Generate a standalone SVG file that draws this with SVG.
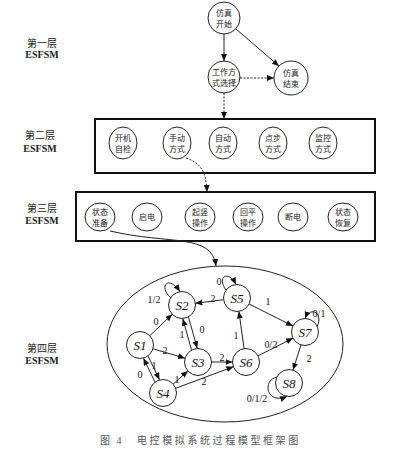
<svg xmlns="http://www.w3.org/2000/svg" width="400" height="455" viewBox="0 0 400 455">
<style>
.nd{fill:#fff;stroke:#222;stroke-width:1}
.bx{fill:none;stroke:#111;stroke-width:2}
.cn{font-family:"Liberation Serif","Noto Sans CJK SC",serif;font-size:8px;fill:#222;text-anchor:middle}
.lay{font-family:"Liberation Serif","Noto Sans CJK SC",serif;font-size:10px;fill:#222;text-anchor:middle}
.es{font-family:"Liberation Serif",serif;font-size:10px;font-weight:bold;fill:#222;text-anchor:middle}
.st{font-family:"Liberation Serif",serif;font-size:13px;font-style:italic;fill:#111;text-anchor:middle}
.el{font-family:"Liberation Serif",serif;font-size:10px;fill:#111;text-anchor:middle}
.e{fill:none;stroke:#222;stroke-width:1;marker-end:url(#ah)}
.dt{stroke-dasharray:2 1.5}
.cap{font-family:"Liberation Serif","Noto Sans CJK SC",serif;font-size:10px;fill:#555}
</style>
<defs>
<marker id="ah" markerUnits="userSpaceOnUse" markerWidth="8" markerHeight="8" refX="7" refY="3" orient="auto">
<path d="M0,0 L7,3 L0,6 Z" fill="#111"/>
</marker>
</defs>

<g id="labels">
<text class="lay" x="42" y="47">第一层</text><text class="es" x="42" y="58">ESFSM</text>
<text class="lay" x="40" y="139">第二层</text><text class="es" x="40" y="152">ESFSM</text>
<text class="lay" x="42" y="212">第三层</text><text class="es" x="42" y="224">ESFSM</text>
<text class="lay" x="42" y="352">第四层</text><text class="es" x="42" y="364">ESFSM</text>
</g>

<g id="layer1">
<g id="n-start"><circle class="nd" cx="224" cy="18" r="16"/><text class="cn" x="224" y="16">仿真</text><text class="cn" x="224" y="27">开始</text></g>
<g id="n-mode"><circle class="nd" cx="224" cy="77" r="16"/><text class="cn" x="224" y="75">工作方</text><text class="cn" x="224" y="86">式选择</text></g>
<g id="n-end"><circle class="nd" cx="291" cy="78" r="17"/><text class="cn" x="291" y="76">仿真</text><text class="cn" x="291" y="87">结束</text></g>
</g>

<g id="layer2">
<rect class="bx" x="95" y="119" width="280" height="54"/>
<g id="n-kj"><ellipse class="nd" cx="123" cy="143" rx="14" ry="16"/><text class="cn" x="123" y="141">开机</text><text class="cn" x="123" y="152">自检</text></g>
<g id="n-sd"><ellipse class="nd" cx="177" cy="143" rx="14" ry="16"/><text class="cn" x="177" y="141">手动</text><text class="cn" x="177" y="152">方式</text></g>
<g id="n-zd"><ellipse class="nd" cx="223" cy="143" rx="14" ry="16"/><text class="cn" x="223" y="141">自动</text><text class="cn" x="223" y="152">方式</text></g>
<g id="n-db"><ellipse class="nd" cx="273" cy="143" rx="14" ry="16"/><text class="cn" x="273" y="141">点步</text><text class="cn" x="273" y="152">方式</text></g>
<g id="n-jk"><ellipse class="nd" cx="323" cy="143" rx="14" ry="16"/><text class="cn" x="323" y="141">监控</text><text class="cn" x="323" y="152">方式</text></g>
</g>

<g id="layer3">
<rect class="bx" x="76" y="192" width="299" height="49"/>
<g id="n-zb"><ellipse class="nd" cx="100" cy="217" rx="15" ry="14"/><text class="cn" x="100" y="215">状态</text><text class="cn" x="100" y="226">准备</text></g>
<g id="n-qd"><ellipse class="nd" cx="147" cy="217" rx="15" ry="14"/><text class="cn" x="147" y="220">启电</text></g>
<g id="n-qs"><ellipse class="nd" cx="200" cy="217" rx="15" ry="14"/><text class="cn" x="200" y="215">起竖</text><text class="cn" x="200" y="226">操作</text></g>
<g id="n-hp"><ellipse class="nd" cx="248" cy="217" rx="15" ry="14"/><text class="cn" x="248" y="215">回平</text><text class="cn" x="248" y="226">操作</text></g>
<g id="n-dd"><ellipse class="nd" cx="293" cy="217" rx="15" ry="14"/><text class="cn" x="293" y="220">断电</text></g>
<g id="n-hf"><ellipse class="nd" cx="343" cy="217" rx="15" ry="14"/><text class="cn" x="343" y="215">状态</text><text class="cn" x="343" y="226">恢复</text></g>
</g>

<g id="layer4">
<ellipse cx="225" cy="344" rx="118" ry="78" fill="none" stroke="#222" stroke-width="1"/>
<g id="S1"><circle class="nd" cx="140" cy="345" r="13.5"/><text class="st" x="140" y="350">S1</text></g>
<g id="S2"><circle class="nd" cx="182" cy="305" r="13.5"/><text class="st" x="182" y="310">S2</text></g>
<g id="S3"><circle class="nd" cx="198" cy="362" r="13.5"/><text class="st" x="198" y="367">S3</text></g>
<g id="S4"><circle class="nd" cx="163" cy="393" r="13.5"/><text class="st" x="163" y="398">S4</text></g>
<g id="S5"><circle class="nd" cx="237" cy="298" r="13.5"/><text class="st" x="237" y="303">S5</text></g>
<g id="S6"><circle class="nd" cx="246" cy="362" r="13.5"/><text class="st" x="246" y="367">S6</text></g>
<g id="S7"><circle class="nd" cx="305" cy="332" r="13.5"/><text class="st" x="305" y="337">S7</text></g>
<g id="S8"><circle class="nd" cx="289" cy="383" r="13.5"/><text class="st" x="289" y="388">S8</text></g>
</g>

<g id="connectors">
<line class="e" x1="224" y1="34" x2="224" y2="61"/>
<line class="e" x1="236" y1="29" x2="279" y2="66"/>
<line class="e dt" x1="240" y1="78" x2="274" y2="78"/>
<line class="e dt" x1="224" y1="93" x2="224" y2="119"/>
<path class="e dt" d="M186,158 C200,163 206,170 207,192"/>
<path class="e" d="M110,231 C170,245 212,233 216,266"/>

<line class="e" x1="149.8" y1="335.7" x2="172.2" y2="314.3"/>
<line class="e" x1="188.5" y1="317.2" x2="197.2" y2="348.2"/>
<line class="e" x1="191.5" y1="349.8" x2="182.8" y2="318.8"/>
<path class="e" d="M171,298 C158,287 168,274 180,291.5"/>
<line class="e" x1="223.6" y1="299.7" x2="195.4" y2="303.3"/>
<path class="e" d="M226,290 C216,276 229,270 236,284.5"/>
<line class="e" x1="249.1" y1="304" x2="292.9" y2="326"/>
<line class="e" x1="244.1" y1="348.6" x2="238.9" y2="311.4"/>
<line class="e" x1="258" y1="355.9" x2="293" y2="338.1"/>
<line class="e" x1="211.5" y1="362" x2="232.5" y2="362"/>
<line class="e" x1="153" y1="348.8" x2="185" y2="358.2"/>
<line class="e" x1="148.1" y1="356.1" x2="159.5" y2="379.7"/>
<line class="e" x1="154.9" y1="381.9" x2="143.5" y2="358.3"/>
<line class="e" x1="173.1" y1="384.1" x2="187.9" y2="370.9"/>
<line class="e" x1="175.6" y1="388.3" x2="233.4" y2="366.7"/>
<path class="e" d="M317,327 C324,312 310,306 305,318.5"/>
<line class="e" x1="301" y1="344.9" x2="293" y2="370.1"/>
<path class="e" d="M277,377 C262,380 266,405 287,396.5"/>
</g>

<g id="edge-labels">
<text class="el" x="156" y="325">0</text>
<text class="el" x="202" y="333">0</text>
<text class="el" x="182" y="338">1</text>
<text class="el" x="154" y="303">1/2</text>
<text class="el" x="213" y="302">2</text>
<text class="el" x="219" y="285">0</text>
<text class="el" x="268" y="305">1</text>
<text class="el" x="236" y="339">1</text>
<text class="el" x="271" y="348">0/2</text>
<text class="el" x="222" y="361">2</text>
<text class="el" x="165" y="354">2</text>
<text class="el" x="154" y="369">1</text>
<text class="el" x="140" y="378">0</text>
<text class="el" x="177" y="383">1</text>
<text class="el" x="204" y="385">2</text>
<text class="el" x="319" y="317">0/1</text>
<text class="el" x="309" y="362">2</text>
<text class="el" x="257" y="402">0/1/2</text>
</g>

<g id="caption">
<text class="cap" x="100" y="444" letter-spacing="2">图 4</text>
<text class="cap" x="137" y="444" letter-spacing="2.6">电控模拟系统过程模型框架图</text>
</g>
</svg>
